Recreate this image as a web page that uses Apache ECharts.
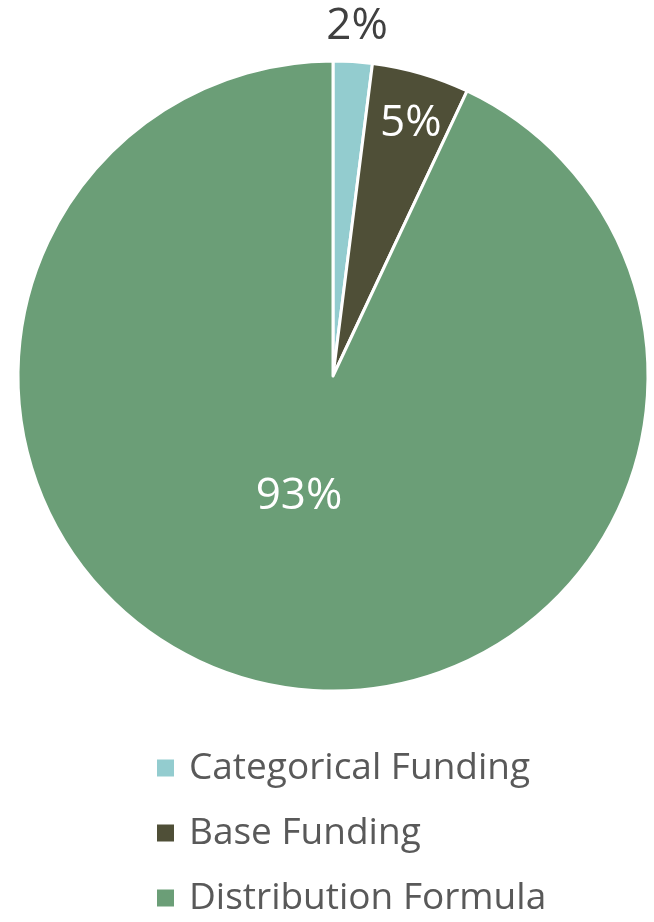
<!DOCTYPE html>
<html><head><meta charset="utf-8">
<script src="https://cdn.jsdelivr.net/npm/echarts@6/dist/echarts.min.js"></script>
<style>html,body{margin:0;padding:0;background:#fff}#c{width:654px;height:922px}</style>
</head><body><div id="c"></div>
<script>
const categories = ['Categorical Funding', 'Base Funding', 'Distribution Formula'];
const values = [2, 5, 93];
const colors = ['#93CCCF', '#4F4F37', '#6B9E77'];
const labelStyles = [
  {color: '#404040', offset: [14, -189]},
  {color: '#ffffff', offset: [33, -98]},
  {color: '#ffffff', offset: [1, -36]}
];
const chart = echarts.init(document.getElementById('c'));
chart.setOption({
  animation: false,
  legend: {
    orient: 'vertical', left: 155, top: 748, padding: 0,
    icon: 'rect', itemWidth: 19, itemHeight: 19, itemGap: 25,
    textStyle: {fontFamily: 'Open Sans', fontSize: 37, color: '#595959', lineHeight: 40, padding: [0, 0, 0, 9]},
    data: categories
  },
  series: [{
    type: 'pie', center: [333, 376], radius: 315, startAngle: 90, clockwise: true,
    avoidLabelOverlap: false,
    itemStyle: {borderColor: '#fff', borderWidth: 3},
    label: {position: 'inside', fontFamily: 'Open Sans', fontSize: 44, formatter: '{c}%'},
    labelLine: {show: false},
    data: categories.map((n, i) => ({
      name: n, value: values[i],
      itemStyle: {color: colors[i]},
      label: labelStyles[i]
    }))
  }]
});
</script></body></html>
